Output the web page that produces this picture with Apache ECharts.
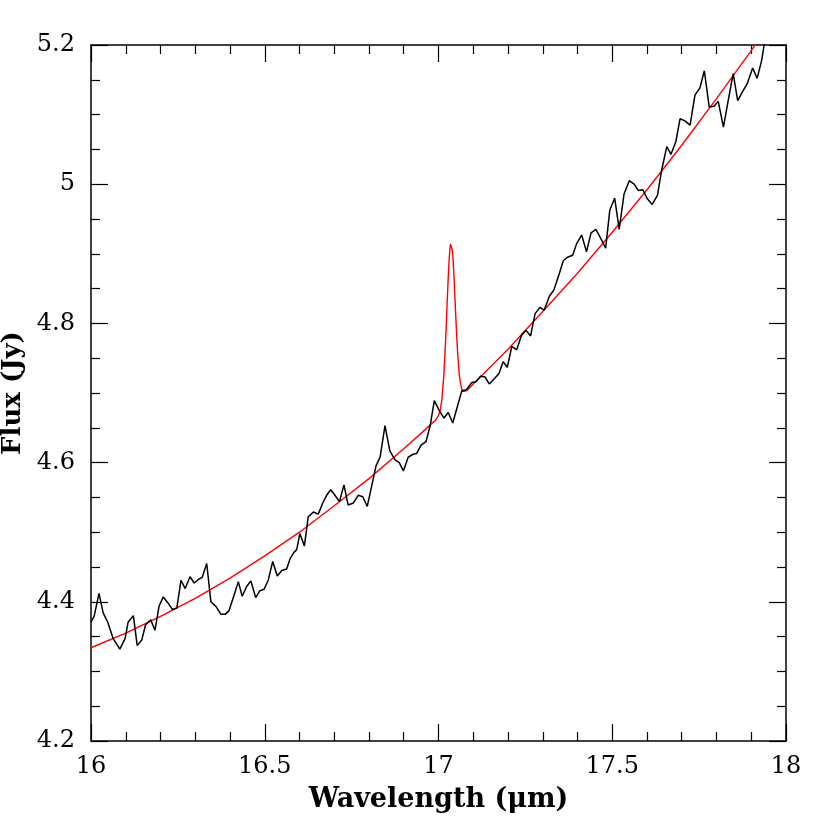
<!DOCTYPE html>
<html>
<head>
<meta charset="utf-8">
<script src="https://cdn.jsdelivr.net/npm/echarts@6/dist/echarts.min.js"></script>
<style>
html, body { margin: 0; padding: 0; background: #fff; }
#chart { width: 830px; height: 830px; }
</style>
</head>
<body>
<div id="chart"></div>
<script>
// observed spectrum (black)
var wl = [16.000, 16.009, 16.023, 16.035, 16.048, 16.064, 16.083, 16.098, 16.107, 16.122,
  16.133, 16.146, 16.157, 16.172, 16.184, 16.196, 16.208, 16.222, 16.234, 16.247,
  16.259, 16.271, 16.285, 16.297, 16.309, 16.320, 16.333, 16.345, 16.360, 16.374,
  16.386, 16.397, 16.410, 16.424, 16.435, 16.448, 16.460, 16.474, 16.486, 16.498,
  16.510, 16.523, 16.536, 16.549, 16.563, 16.573, 16.584, 16.592, 16.601, 16.614,
  16.625, 16.640, 16.654, 16.667, 16.678, 16.690, 16.702, 16.715, 16.728, 16.740,
  16.755, 16.769, 16.782, 16.795, 16.808, 16.820, 16.832, 16.846, 16.860, 16.875,
  16.887, 16.899, 16.913, 16.927, 16.937, 16.950, 16.964, 16.976, 16.988, 17.003,
  17.016, 17.028, 17.041, 17.067, 17.081, 17.096, 17.108, 17.121, 17.134, 17.146,
  17.160, 17.174, 17.186, 17.198, 17.211, 17.225, 17.239, 17.252, 17.265, 17.278,
  17.292, 17.304, 17.319, 17.332, 17.348, 17.359, 17.371, 17.386, 17.398, 17.412,
  17.426, 17.439, 17.453, 17.467, 17.481, 17.493, 17.507, 17.520, 17.534, 17.549,
  17.563, 17.575, 17.588, 17.601, 17.615, 17.630, 17.642, 17.657, 17.669, 17.683,
  17.695, 17.709, 17.724, 17.738, 17.752, 17.765, 17.779, 17.793, 17.805, 17.820,
  17.834, 17.848, 17.861, 17.875, 17.888, 17.904, 17.917, 17.930, 17.942];
var flux = [4.371, 4.379, 4.412, 4.384, 4.371, 4.347, 4.332, 4.347, 4.371, 4.380,
  4.337, 4.345, 4.367, 4.374, 4.359, 4.394, 4.407, 4.398, 4.389, 4.391,
  4.431, 4.419, 4.436, 4.427, 4.432, 4.435, 4.455, 4.400, 4.393, 4.382,
  4.382, 4.387, 4.407, 4.429, 4.408, 4.422, 4.430, 4.406, 4.416, 4.418,
  4.431, 4.458, 4.437, 4.445, 4.447, 4.462, 4.471, 4.475, 4.498, 4.480,
  4.522, 4.529, 4.526, 4.542, 4.553, 4.561, 4.553, 4.544, 4.568, 4.539,
  4.542, 4.553, 4.551, 4.537, 4.567, 4.595, 4.608, 4.653, 4.617, 4.604,
  4.600, 4.588, 4.608, 4.612, 4.613, 4.625, 4.630, 4.653, 4.689, 4.674,
  4.664, 4.672, 4.657, 4.703, 4.705, 4.715, 4.716, 4.724, 4.723, 4.713,
  4.720, 4.728, 4.745, 4.737, 4.767, 4.762, 4.783, 4.790, 4.782, 4.814,
  4.823, 4.819, 4.839, 4.848, 4.872, 4.890, 4.895, 4.898, 4.915, 4.927,
  4.903, 4.930, 4.935, 4.922, 4.908, 4.963, 4.980, 4.935, 4.986, 5.005,
  5.000, 4.991, 4.992, 4.979, 4.971, 4.984, 5.020, 5.054, 5.043, 5.061,
  5.094, 5.091, 5.085, 5.128, 5.138, 5.163, 5.111, 5.112, 5.119, 5.082,
  5.121, 5.159, 5.120, 5.133, 5.144, 5.167, 5.152, 5.178, 5.215];

// model fit (red)
var modelWl = [16.0, 16.1, 16.2, 16.3, 16.4, 16.5, 16.6, 16.7, 16.8, 16.9,
  16.95, 16.98, 16.99, 17.0, 17.005, 17.01, 17.015, 17.02, 17.0225, 17.025,
  17.0275, 17.03, 17.0325, 17.0345, 17.036, 17.038, 17.04, 17.0425, 17.045,
  17.0475, 17.05, 17.0525, 17.055, 17.06, 17.065, 17.07, 17.08,
  17.1, 17.2, 17.3, 17.4, 17.5, 17.6, 17.7, 17.8, 17.9, 17.95];
var modelFlux = [4.334, 4.355, 4.379, 4.405, 4.434, 4.466, 4.500, 4.538, 4.577, 4.620,
  4.642, 4.656, 4.660, 4.668, 4.675, 4.692, 4.723, 4.770, 4.800, 4.831,
  4.860, 4.886, 4.905, 4.914, 4.916, 4.914, 4.905, 4.887, 4.863,
  4.835, 4.807, 4.781, 4.758, 4.725, 4.709, 4.702, 4.703,
  4.713, 4.763, 4.817, 4.872, 4.931, 4.992, 5.056, 5.123, 5.192, 5.228];

var xMin = 16, xMax = 18, xStep = 0.5;
var yMin = 4.2, yMax = 5.2, yStep = 0.2;

var chart = echarts.init(document.getElementById('chart'));

function frameAxis(extra) {
    var base = {
        type: 'value',
        axisLine: { show: true, onZero: false, lineStyle: { color: '#000', width: 1.5 } },
        axisTick: { show: true, inside: true, length: 17, lineStyle: { color: '#000', width: 1.2 } },
        splitLine: { show: false },
        minorSplitLine: { show: false }
    };
    return Object.assign(base, extra);
}

var labelFont = { color: '#000', fontFamily: 'DejaVu Serif', fontSize: 24 };
var titleFont = { color: '#000', fontFamily: 'DejaVu Serif', fontWeight: 'bold', fontSize: 27 };

var option = {
    animation: false,
    backgroundColor: '#fff',
    grid: { left: 91, right: 44, top: 45, bottom: 89, outerBoundsMode: 'none', containLabel: false },
    xAxis: [
        frameAxis({
            min: xMin, max: xMax, interval: xStep, position: 'bottom',
            minorTick: { show: true, splitNumber: 5, length: 9, lineStyle: { color: '#000', width: 1.2 } },
            axisLabel: Object.assign({ margin: 14, showMinLabel: true, showMaxLabel: true }, labelFont),
            name: 'Wavelength (\u03bcm)',
            nameLocation: 'middle',
            nameGap: 45,
            nameTextStyle: titleFont
        }),
        frameAxis({
            min: xMin, max: xMax, interval: xStep, position: 'top',
            minorTick: { show: true, splitNumber: 5, length: 9, lineStyle: { color: '#000', width: 1.2 } },
            axisLabel: { show: false }
        })
    ],
    yAxis: [
        frameAxis({
            min: yMin, max: yMax, interval: yStep, position: 'left',
            minorTick: { show: true, splitNumber: 4, length: 9, lineStyle: { color: '#000', width: 1.2 } },
            axisLabel: Object.assign({
                margin: 16, showMinLabel: true, showMaxLabel: true,
                formatter: function (v) { return String(+v.toFixed(2)); }
            }, labelFont),
            name: 'Flux (Jy)',
            nameLocation: 'middle',
            nameGap: 55,
            nameTextStyle: { color: '#000', fontFamily: 'DejaVu Serif', fontWeight: 'bold', fontSize: 26 }
        }),
        frameAxis({
            min: yMin, max: yMax, interval: yStep, position: 'right',
            minorTick: { show: true, splitNumber: 4, length: 9, lineStyle: { color: '#000', width: 1.2 } },
            axisLabel: { show: false }
        })
    ],
    series: [
        {
            name: 'model',
            type: 'line',
            xAxisIndex: 0, yAxisIndex: 0,
            data: modelWl.map(function (w, i) { return [w, modelFlux[i]]; }),
            showSymbol: false,
            clip: true,
            lineStyle: { color: '#ff0000', width: 1.4 },
            z: 2
        },
        {
            name: 'spectrum',
            type: 'line',
            xAxisIndex: 0, yAxisIndex: 0,
            data: wl.map(function (w, i) { return [w, flux[i]]; }),
            showSymbol: false,
            clip: true,
            lineStyle: { color: '#000', width: 1.5 },
            z: 3
        }
    ]
};
chart.setOption(option);
</script>
</body>
</html>
